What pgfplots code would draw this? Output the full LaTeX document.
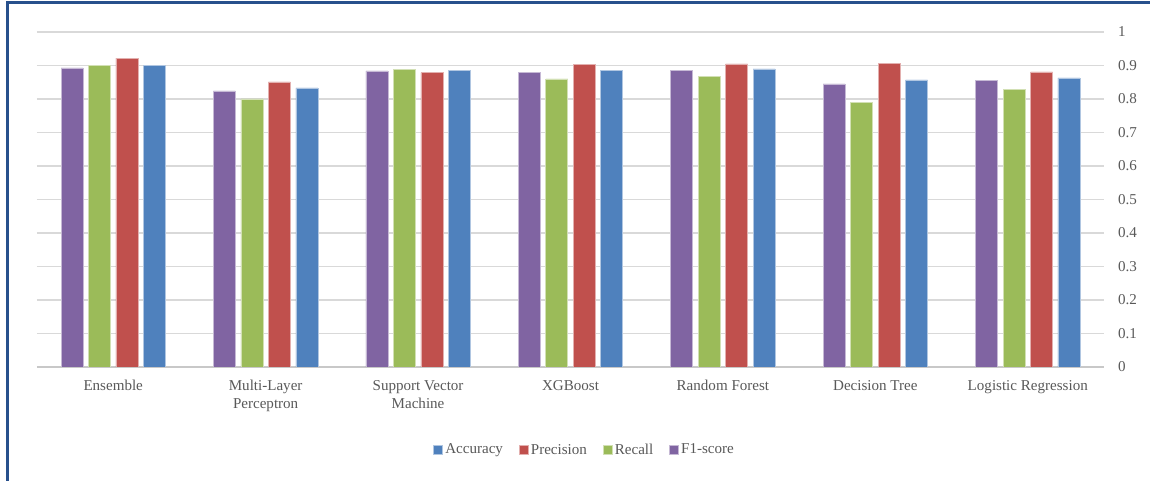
\documentclass[border=0pt]{standalone}
\usepackage{pgfplots}
\pgfplotsset{compat=1.18}
\usepackage{fontspec}
\setmainfont{Liberation Serif}

\definecolor{accC}{HTML}{4F81BD}
\definecolor{preC}{HTML}{C0504D}
\definecolor{recC}{HTML}{9BBB59}
\definecolor{f1C}{HTML}{8064A2}
\definecolor{txtC}{HTML}{595959}
\definecolor{gridC}{HTML}{D9D9D9}
\definecolor{frameC}{RGB}{40,80,140}

\begin{document}
\begin{tikzpicture}[x=1pt,y=1pt]
\useasboundingbox (0,0) rectangle (862.5,360.75);
\draw[frameC, line width=1.6pt] (5.6,-20) rectangle (900,358.9);
\begin{axis}[
  at={(27.75pt,85.5pt)}, anchor=south west,
  scale only axis,
  width=800.25pt, height=251.25pt,
  ymin=0, ymax=1,
  xmin=-0.5, xmax=6.5,
  ybar=4.1pt, bar width=16.5pt,
  xtick=data,
  xticklabels={Ensemble,{Multi-Layer\\Perceptron},{Support Vector\\Machine},XGBoost,Random Forest,Decision Tree,Logistic Regression},
  xticklabel style={align=center, font=\fontsize{11.3}{13.5}\selectfont, text=txtC, yshift=-6.5pt},
  ytick={0,0.1,...,1.0},
  yticklabel pos=right,
  yticklabel style={font=\fontsize{11.3}{13}\selectfont, text=txtC, xshift=7pt, anchor=west},
  /pgf/number format/assume math mode=true,
  /pgf/number format/.cd, fixed, precision=1, /pgfplots/.cd,
  ymajorgrids, grid style={gridC, line width=1.2pt},
  major tick length=0pt,
  axis x line=bottom, axis y line=right,
  x axis line style={gridC!92!black, line width=1.5pt, -},
  y axis line style={draw=none},
  reverse legend,
  legend columns=4,
  legend style={at={(0.5136,-0.2478)}, anchor=center, draw=none,
    font=\fontsize{11.3}{13}\selectfont, text=txtC,
    /tikz/every even column/.append style={column sep=10pt}},
  legend image code/.code={\fill[#1] (0pt,-3pt) rectangle (6.5pt,3.5pt);},
]
% F1-score
\addplot[fill=f1C, draw=f1C!45!white, line width=0.4pt] coordinates
  {(0,0.893) (1,0.824) (2,0.884) (3,0.880) (4,0.886) (5,0.845) (6,0.855)};
% Recall
\addplot[fill=recC, draw=recC!45!white, line width=0.4pt] coordinates
  {(0,0.900) (1,0.800) (2,0.888) (3,0.860) (4,0.867) (5,0.789) (6,0.829)};
% Precision
\addplot[fill=preC, draw=preC!45!white, line width=0.4pt] coordinates
  {(0,0.922) (1,0.851) (2,0.879) (3,0.904) (4,0.905) (5,0.906) (6,0.881)};
% Accuracy
\addplot[fill=accC, draw=accC!45!white, line width=0.4pt] coordinates
  {(0,0.900) (1,0.833) (2,0.885) (3,0.885) (4,0.890) (5,0.857) (6,0.863)};
\legend{F1-score,Recall,Precision,Accuracy}
\end{axis}
\end{tikzpicture}
\end{document}
